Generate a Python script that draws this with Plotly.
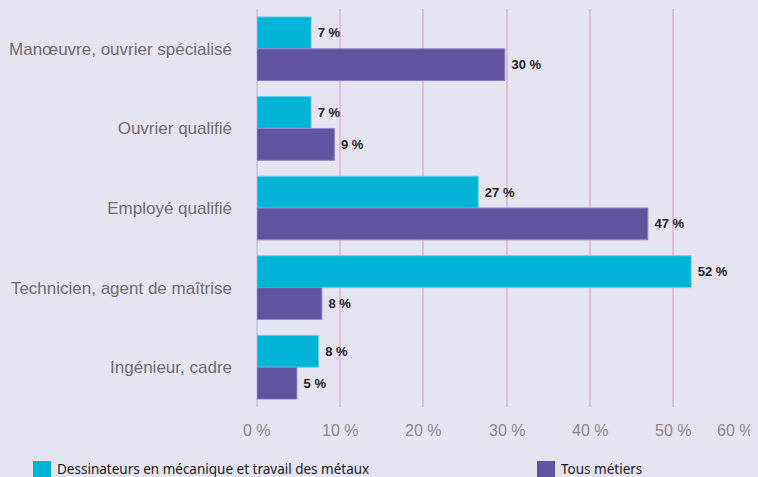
import plotly.graph_objects as go

categories = ["Manœuvre, ouvrier spécialisé", "Ouvrier qualifié", "Employé qualifié",
              "Technicien, agent de maîtrise", "Ingénieur, cadre"]
dessinateurs = [6.5, 6.5, 26.6, 52.2, 7.4]
dessinateurs_labels = ["7 %", "7 %", "27 %", "52 %", "8 %"]
tous = [29.8, 9.3, 47.0, 7.8, 4.8]
tous_labels = ["30 %", "9 %", "47 %", "8 %", "5 %"]
series_names = ["Dessinateurs en mécanique et travail des métaux", "Tous métiers"]
tick_vals = [0, 10, 20, 30, 40, 50, 60]
tick_text = ["0 %", "10 %", "20 %", "30 %", "40 %", "50 %", "60 %"]

OFF = 8  # page body margin
W, H = 758 - OFF, 477 - OFF
ML, MR, MT, MB = 257 - OFF, 2, 9 - OFF, 477 - 407
PW, PH = W - ML - MR, H - MT - MB
BG = "#e6e3f1"
CYAN = "#00b4d6"
PURPLE = "#6153a0"

def px_x(p):
    return (p - OFF - ML) / PW

def px_y(p):
    return (H - MB - (p - OFF)) / PH

pad = "\u00a0"
label_font = dict(family="Liberation Sans, Arial", size=13, color="#222222", weight="bold")

fig = go.Figure()
fig.add_trace(go.Bar(
    y=categories, x=dessinateurs, orientation="h", name=series_names[0],
    marker=dict(color=CYAN, line=dict(color="#5fd3ea", width=1)),
    text=[pad + t for t in dessinateurs_labels], textposition="outside",
    textfont=label_font, cliponaxis=False, showlegend=False,
))
fig.add_trace(go.Bar(
    y=categories, x=tous, orientation="h", name=series_names[1],
    marker=dict(color=PURPLE, line=dict(color="#8f84c4", width=1)),
    text=[pad + t for t in tous_labels], textposition="outside",
    textfont=label_font, cliponaxis=False, showlegend=False,
))

annotations = []
for v, t in zip(tick_vals, tick_text):
    last = v == tick_vals[-1]
    annotations.append(dict(
        x=v, xref="x", y=0, yref="paper", yanchor="top",
        xanchor="right" if last else "center", xshift=-1 if last else 0, yshift=-13,
        text=t, showarrow=False,
        font=dict(family="Liberation Sans, Arial", size=16, color="#8a8a8a"),
    ))

shapes = []
legend_items = [(33, 55, CYAN, series_names[0]), (537, 559, PURPLE, series_names[1])]
for sx, tx, col, name in legend_items:
    shapes.append(dict(type="rect", xref="paper", yref="paper",
                       x0=px_x(sx), x1=px_x(sx + 18), y0=px_y(461), y1=px_y(479),
                       fillcolor=col, line=dict(width=0)))
    annotations.append(dict(x=px_x(tx), xref="paper", y=px_y(469), yref="paper",
                            xanchor="left", yanchor="middle", text=name, showarrow=False,
                            font=dict(family="Noto Sans", size=13.5, color="#1a1a1a")))

fig.update_layout(
    width=W, height=H,
    margin=dict(l=ML, r=MR, t=MT, b=MB),
    paper_bgcolor=BG, plot_bgcolor=BG,
    barmode="group", bargap=0.2, bargroupgap=0,
    annotations=annotations, shapes=shapes,
    xaxis=dict(range=[0, 60], tickvals=tick_vals, showticklabels=False,
               showgrid=True, gridcolor="#dcbfdc", gridwidth=2,
               zeroline=True, zerolinecolor="#c9cdea", zerolinewidth=2,
               showline=False, fixedrange=True),
    yaxis=dict(autorange="reversed", showgrid=False, zeroline=False, showline=False,
               ticks="", ticklabelstandoff=24,
               tickfont=dict(family="Liberation Sans, Arial", size=17, color="#6e6e6e")),
    showlegend=False,
)

post = ("document.documentElement.style.background='%s';"
        "document.body.style.background='%s';" % (BG, BG))
fig.write_html("out.html", post_script=post)
